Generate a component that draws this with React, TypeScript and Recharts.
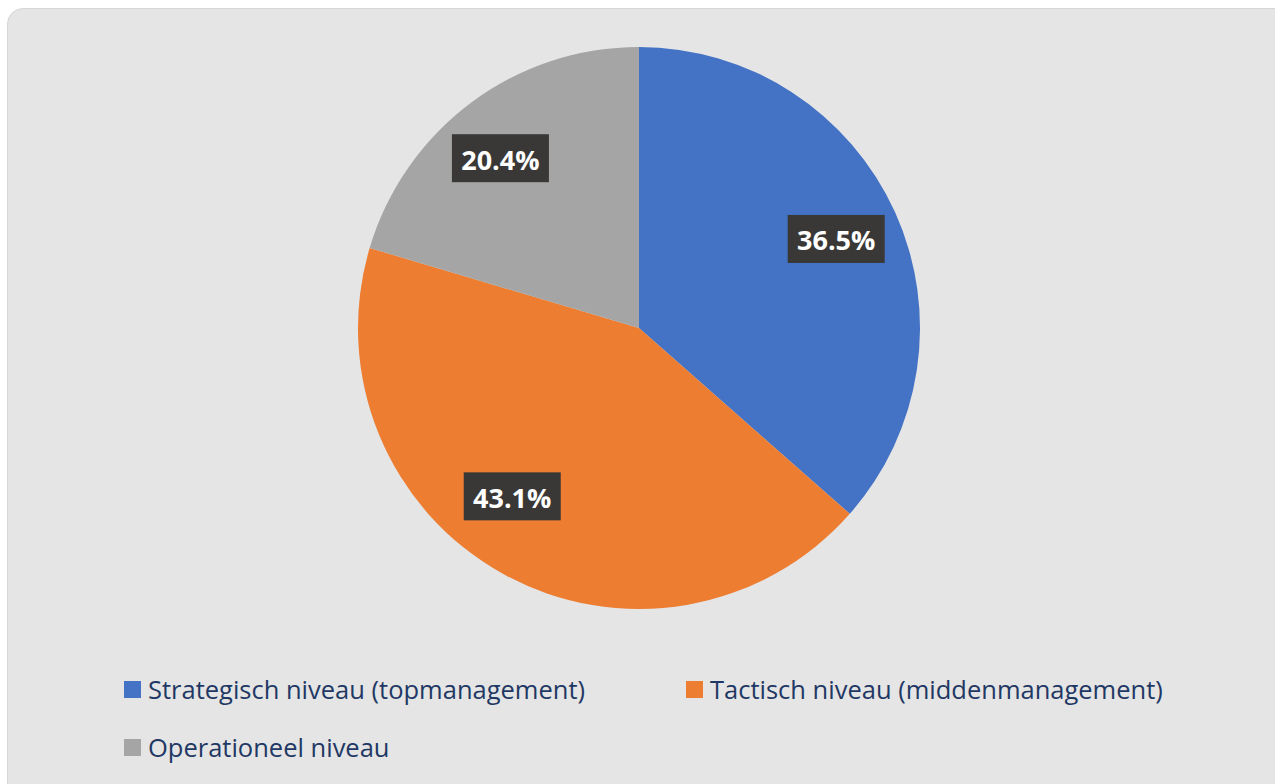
import { PieChart, Pie, Cell, Legend } from 'recharts'

const LABELS = [
  'Strategisch niveau (topmanagement)',
  'Tactisch niveau (middenmanagement)',
  'Operationeel niveau',
]
const SHARES = [36.5, 43.1, 20.4]
const COLORS = ['#4472c4', '#ed7d31', '#a5a5a5']

const data = LABELS.map((name, i) => ({ name, value: SHARES[i] }))

const RAD = Math.PI / 180
const FONT = '"Open Sans", sans-serif'
// best-fit style nudge of the label angle (deg) and radius fraction, per slice
const LABEL_NUDGE = [
  { da: 0, rf: 0.77 },
  { da: -8, rf: 0.75 },
  { da: 2.5, rf: 0.78 },
]

function renderLabel(props: any) {
  const { cx, cy, midAngle, outerRadius, value, index } = props
  const n = LABEL_NUDGE[index] || { da: 0, rf: 0.77 }
  const r = outerRadius * n.rf
  const a = midAngle + n.da
  const x = cx + r * Math.cos(-a * RAD)
  const y = cy + r * Math.sin(-a * RAD)
  const w = 97
  const h = 48
  return (
    <g>
      <rect x={x - w / 2} y={y - h / 2} width={w} height={h} fill="#3a3836" />
      <text
        x={x}
        y={y + 1}
        fill="#ffffff"
        fontFamily={FONT}
        fontWeight={700}
        fontSize={27}
        textAnchor="middle"
        dominantBaseline="central"
      >
        {`${value.toFixed(1)}%`}
      </text>
    </g>
  )
}

function LegendBox() {
  const pos = [
    { left: 124, top: 674 },
    { left: 686, top: 674 },
    { left: 124, top: 732 },
  ]
  return (
    <div style={{ position: 'relative', width: 1275, height: 784 }}>
      {LABELS.map((label, i) => (
        <div
          key={label}
          style={{
            position: 'absolute',
            left: pos[i].left,
            top: pos[i].top,
            display: 'flex',
            alignItems: 'center',
            whiteSpace: 'nowrap',
          }}
        >
          <span style={{ width: 17, height: 17, background: COLORS[i], display: 'inline-block', marginRight: 7 }} />
          <span style={{ color: '#1f3864', fontFamily: FONT, fontSize: 25.5, lineHeight: '30px' }}>{label}</span>
        </div>
      ))}
    </div>
  )
}

export default function App() {
  return (
    <div style={{ position: 'absolute', left: 0, top: 0, width: 1275, height: 784, background: '#ffffff', overflow: 'hidden' }}>
      <div
        style={{
          position: 'absolute',
          left: 7,
          top: 8,
          width: 1290,
          height: 800,
          background: '#e5e5e5',
          border: '1px solid #d6d6d6',
          borderRadius: 16,
        }}
      />
      <div style={{ position: 'absolute', left: 0, top: 0 }}>
        <PieChart width={1275} height={784} margin={{ top: 0, right: 0, bottom: 0, left: 0 }}>
          <Pie
            data={data}
            dataKey="value"
            nameKey="name"
            cx={639}
            cy={328}
            outerRadius={281}
            startAngle={90}
            endAngle={-270}
            stroke="none"
            label={renderLabel}
            labelLine={false}
            isAnimationActive={false}
          >
            {data.map((d, i) => (
              <Cell key={d.name} fill={COLORS[i]} />
            ))}
          </Pie>
          <Legend
            content={() => <LegendBox />}
            wrapperStyle={{ position: 'absolute', left: 0, top: 0, width: 1275, height: 784 }}
          />
        </PieChart>
      </div>
    </div>
  )
}
